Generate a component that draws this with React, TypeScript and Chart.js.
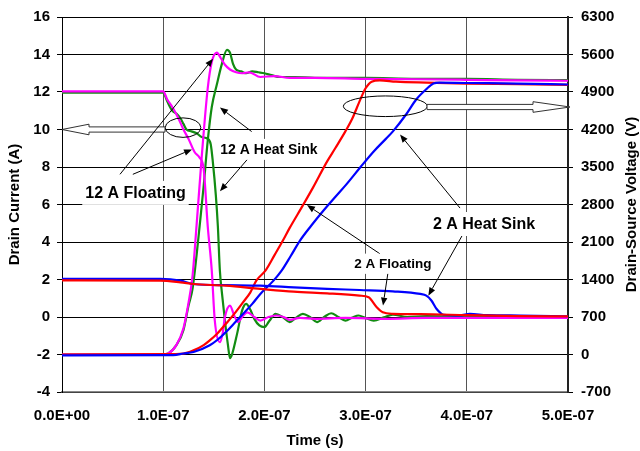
import React, { useEffect, useRef } from 'react';
import { Chart, registerables } from 'chart.js';

Chart.register(...registerables);

// ---------- axis ticks ----------
const timeTicksNs = [0, 100, 200, 300, 400, 500];
const timeTickLabels = ['0.0E+00', '1.0E-07', '2.0E-07', '3.0E-07', '4.0E-07', '5.0E-07'];

// ---------- 12 A Floating (magenta) ----------
const fl12CurT = [0, 100, 104, 109, 115, 120, 125, 131, 136, 140, 144, 148, 151, 156, 159, 161, 166, 170, 174, 178, 183, 190, 196, 204, 212, 219, 225, 235, 250, 280, 320, 360, 420, 500];
const fl12CurA = [12.03, 12.03, 11.6, 11.2, 10.6, 10.0, 9.5, 8.8, 8.5, 7.9, 4.85, 2.47, -0.2, -1.34, -0.8, 0.0, 0.61, 0.1, -0.27, 0.0, 0.25, 0.0, -0.19, 0.0, 0.08, 0.0, -0.15, -0.05, -0.1, -0.05, -0.1, -0.05, -0.05, -0.05];
const fl12VoltT = [0, 100, 105, 113, 120, 125, 129, 133, 138, 144, 148, 153, 157, 161, 166, 172, 178, 185, 196, 210, 225, 250, 300, 350, 400, 450, 500];
const fl12VoltV = [0, 0, 18, 175, 490, 963, 1470, 2415, 3675, 4970, 5460, 5635, 5530, 5408, 5320, 5268, 5250, 5268, 5180, 5198, 5163, 5163, 5145, 5138, 5128, 5117, 5110];

// ---------- 12 A Heat Sink (green) ----------
const hs12CurT = [0, 100, 104, 109, 113, 117, 120, 123, 128, 133, 138, 144, 147, 149, 152, 154, 156, 158, 161, 164, 166, 168, 173, 178, 182, 186, 190, 195, 200, 205, 211, 218, 225, 231, 238, 245, 252, 259, 266, 273, 280, 287, 293, 300, 308, 318, 327, 341, 360, 400, 450, 500];
const hs12CurA = [11.96, 11.96, 11.5, 11.0, 10.85, 10.6, 10.3, 10.0, 9.9, 9.8, 9.6, 9.5, 9.2, 8.3, 6.5, 4.85, 2.47, 1.3, -0.2, -1.5, -2.2, -2.0, -0.9, 0.35, 0.7, 0.4, -0.1, -0.45, -0.54, -0.2, 0.17, 0.0, -0.27, -0.05, 0.17, 0.0, -0.27, 0.0, 0.2, 0.0, -0.19, -0.03, 0.08, -0.05, -0.19, -0.02, 0.13, 0.0, 0.05, 0.0, 0.02, 0.0];
const hs12VoltT = [0, 100, 105, 113, 120, 125, 129, 133, 136, 140, 144, 148, 153, 158, 163, 166, 169, 172, 177, 182, 188, 194, 200, 207, 215, 230, 250, 300, 350, 400, 450, 500];
const hs12VoltV = [0, 0, 18, 175, 455, 910, 1225, 1855, 2398, 3150, 3990, 4620, 5040, 5425, 5688, 5635, 5425, 5320, 5285, 5250, 5285, 5268, 5250, 5215, 5180, 5180, 5163, 5163, 5145, 5145, 5128, 5123];

// ---------- 2 A Floating (red) ----------
const fl2CurT = [0, 97, 117, 130, 162, 196, 229, 262, 294, 303, 311, 317, 327, 354, 400, 450, 500];
const fl2CurA = [1.95, 1.94, 1.85, 1.76, 1.67, 1.5, 1.35, 1.26, 1.14, 1.05, 0.52, 0.25, 0.17, 0.15, 0.1, 0.05, 0.03];
const fl2VoltT = [0, 100, 120, 130, 140, 146, 154, 162, 170, 179, 186, 192, 201, 210, 218, 225, 238, 248, 262, 270, 280, 287, 294, 300, 306, 314, 330, 360, 400, 450, 500];
const fl2VoltV = [0, 7, 18, 77, 175, 263, 403, 574, 753, 977, 1155, 1379, 1565, 1855, 2118, 2363, 2783, 3115, 3605, 3850, 4165, 4410, 4725, 4970, 5093, 5117, 5093, 5075, 5058, 5047, 5033];

// ---------- 2 A Heat Sink (blue) ----------
const hs2CurT = [0, 97, 117, 130, 162, 196, 229, 262, 294, 327, 354, 360, 365, 370, 377, 393, 403, 420, 453, 500];
const hs2CurA = [2.03, 2.03, 1.94, 1.76, 1.7, 1.67, 1.58, 1.5, 1.44, 1.37, 1.23, 1.14, 0.88, 0.44, 0.12, 0.08, 0.17, 0.1, 0.08, 0.04];
const hs2VoltT = [0, 110, 120, 130, 146, 154, 162, 170, 179, 188, 196, 209, 217, 226, 235, 246, 258, 270, 281, 295, 308, 320, 327, 340, 350, 360, 367, 373, 400, 450, 500];
const hs2VoltV = [-15, -10, 18, 46, 172, 280, 420, 578, 760, 945, 1131, 1379, 1565, 1838, 2121, 2398, 2678, 2940, 3175, 3500, 3791, 4025, 4165, 4480, 4760, 4953, 5058, 5075, 5068, 5058, 5040];

// ---------- callouts (data coordinates: time ns, current A) ----------
const calloutLabels = [
  { text: '12 A Floating', t: 72.6, a: 6.62, size: 16 },
  { text: '12 A Heat Sink', t: 204.5, a: 8.94, size: 14 },
  { text: '2 A Floating', t: 327, a: 2.84, size: 13.5 },
  { text: '2 A Heat Sink', t: 417, a: 4.96, size: 16 },
];
const calloutArrows = [
  { from: [57.3, 7.61], to: [149.2, 13.77] },
  { from: [70.0, 7.61], to: [128.5, 8.94] },
  { from: [187.4, 9.89], to: [156.1, 11.17] },
  { from: [185.8, 8.57], to: [156.1, 6.71] },
  { from: [314.2, 3.37], to: [242.1, 5.97] },
  { from: [322.1, 2.36], to: [317.2, 0.61] },
  { from: [393.3, 5.81], to: [334.0, 9.73] },
  { from: [398.0, 4.59], to: [362.0, 1.14] },
];
const calloutEllipses = [
  { t: 119.6, a: 10.1, rt: 17.6, ra: 0.52 },
  { t: 319.5, a: 11.24, rt: 41.5, ra: 0.55 },
];
const hollowArrows = [
  { tail: 101.8, tip: 0, a: 10.0, head: 27 },
  { tail: 360.7, tip: 502, a: 11.2, head: 37 },
];

const FONT = "'Liberation Sans', Arial, Helvetica, sans-serif";
const toPts = (ts: number[], vs: number[]) => ts.map((t, i) => ({ x: t * 1e-9, y: vs[i] }));

const calloutPlugin = {
  id: 'callouts',
  afterDatasetsDraw(chart: any) {
    const { ctx } = chart;
    const xs = chart.scales.x;
    const ys = chart.scales.y;
    const px = (t: number) => xs.getPixelForValue(t * 1e-9);
    const py = (a: number) => ys.getPixelForValue(a);
    ctx.save();
    // ellipses
    ctx.strokeStyle = '#000';
    ctx.lineWidth = 1;
    for (const e of calloutEllipses) {
      const cx = px(e.t), cy = py(e.a);
      const rx = px(e.t + e.rt) - cx;
      const ry = cy - py(e.a + e.ra);
      ctx.beginPath();
      ctx.ellipse(cx, cy, rx, ry, 0, 0, Math.PI * 2);
      ctx.stroke();
    }
    // hollow block arrows
    for (const h of hollowArrows) {
      const x0 = px(h.tip), x1 = px(h.tail), y = py(h.a);
      const dir = Math.sign(x1 - x0);
      const hb = x0 + dir * h.head;
      ctx.beginPath();
      ctx.moveTo(x0, y);
      ctx.lineTo(hb, y - 5.3);
      ctx.lineTo(hb, y - 2.6);
      ctx.lineTo(x1, y - 2.6);
      ctx.lineTo(x1, y + 2.6);
      ctx.lineTo(hb, y + 2.6);
      ctx.lineTo(hb, y + 5.3);
      ctx.closePath();
      ctx.fillStyle = '#fff';
      ctx.fill();
      ctx.strokeStyle = '#333';
      ctx.lineWidth = 1;
      ctx.stroke();
    }
    // pointer arrows
    ctx.strokeStyle = '#000';
    ctx.fillStyle = '#000';
    for (const ar of calloutArrows) {
      const x0 = px(ar.from[0]), y0 = py(ar.from[1]);
      const x1 = px(ar.to[0]), y1 = py(ar.to[1]);
      const ang = Math.atan2(y1 - y0, x1 - x0);
      const hl = 8, hw = 3.2;
      const bx = x1 - hl * Math.cos(ang), by = y1 - hl * Math.sin(ang);
      ctx.beginPath();
      ctx.moveTo(x0, y0);
      ctx.lineTo(bx, by);
      ctx.lineWidth = 1;
      ctx.stroke();
      ctx.beginPath();
      ctx.moveTo(x1, y1);
      ctx.lineTo(bx + hw * Math.sin(ang), by - hw * Math.cos(ang));
      ctx.lineTo(bx - hw * Math.sin(ang), by + hw * Math.cos(ang));
      ctx.closePath();
      ctx.fill();
    }
    // text labels with white background
    ctx.textAlign = 'center';
    ctx.textBaseline = 'middle';
    for (const l of calloutLabels) {
      ctx.font = `bold ${l.size}px ${FONT}`;
      const w = ctx.measureText(l.text).width;
      const cx = px(l.t), cy = py(l.a);
      ctx.fillStyle = '#fff';
      ctx.fillRect(cx - w / 2 - 3, cy - l.size * 0.75, w + 6, l.size * 1.5);
      ctx.fillStyle = '#000';
      ctx.fillText(l.text, cx, cy + 1);
    }
    ctx.restore();
  },
  afterDraw(chart: any) {
    const { ctx } = chart;
    const ya = chart.scales.yV;
    ctx.save();
    ctx.font = `bold 15px ${FONT}`;
    ctx.fillStyle = '#000';
    ctx.textAlign = 'center';
    ctx.textBaseline = 'middle';
    ctx.translate(632, (ya.top + ya.bottom) / 2);
    ctx.rotate(-Math.PI / 2);
    ctx.fillText('Drain-Source Voltage (V)', 0, 0);
    ctx.restore();
  },
};

export default function App() {
  const ref = useRef<HTMLCanvasElement | null>(null);
  useEffect(() => {
    if (!ref.current) return;
    const lw = 2.2;
    const common = { pointRadius: 0, borderWidth: lw, cubicInterpolationMode: 'monotone' as const, fill: false };
    const chart = new Chart(ref.current, {
      type: 'line',
      data: {
        datasets: [
          { label: '2 A Floating current', data: toPts(fl2CurT, fl2CurA), borderColor: '#ff0000', yAxisID: 'y', ...common },
          { label: '2 A Heat Sink current', data: toPts(hs2CurT, hs2CurA), borderColor: '#0000ff', yAxisID: 'y', ...common },
          { label: '2 A Heat Sink voltage', data: toPts(hs2VoltT, hs2VoltV), borderColor: '#0000ff', yAxisID: 'yV', ...common },
          { label: '2 A Floating voltage', data: toPts(fl2VoltT, fl2VoltV), borderColor: '#ff0000', yAxisID: 'yV', ...common },
          { label: '12 A Floating current', data: toPts(fl12CurT, fl12CurA), borderColor: '#ff00ff', yAxisID: 'y', ...common },
          { label: '12 A Floating voltage', data: toPts(fl12VoltT, fl12VoltV), borderColor: '#ff00ff', yAxisID: 'yV', ...common },
          { label: '12 A Heat Sink current', data: toPts(hs12CurT, hs12CurA), borderColor: '#128c12', yAxisID: 'y', ...common },
          { label: '12 A Heat Sink voltage', data: toPts(hs12VoltT, hs12VoltV), borderColor: '#128c12', yAxisID: 'yV', ...common },
        ],
      },
      options: {
        animation: false,
        responsive: false,
        devicePixelRatio: 1,
        layout: { padding: { top: 15, left: 0, right: 0, bottom: 0 } },
        plugins: { legend: { display: false }, tooltip: { enabled: false } },
        scales: {
          x: {
            type: 'linear',
            position: 'bottom',
            min: 0,
            max: 5e-7,
            afterBuildTicks: (s: any) => { s.ticks = timeTicksNs.map((v) => ({ value: v * 1e-9 })); },
            afterFit: (s: any) => { s.height = 59; },
            ticks: {
              callback: (_v: any, i: number) => timeTickLabels[i],
              font: { family: FONT, size: 15, weight: 'bold' },
              color: '#000',
              padding: 15,
              maxRotation: 0,
              autoSkip: false,
            },
            grid: { color: '#555', lineWidth: 1, drawTicks: false },
            border: { color: '#888', width: 1.5 },
            title: { display: true, text: 'Time (s)', font: { family: FONT, size: 15, weight: 'bold' }, color: '#000', padding: { top: 0, bottom: 1 } },
          },
          y: {
            type: 'linear',
            position: 'left',
            min: -4,
            max: 16,
            afterFit: (s: any) => { s.width = 62; },
            ticks: { stepSize: 2, font: { family: FONT, size: 15, weight: 'bold' }, color: '#000', padding: 7 },
            grid: { color: '#000', lineWidth: 1, tickLength: 5 },
            border: { color: '#000', width: 1 },
            title: { display: true, text: 'Drain Current (A)', font: { family: FONT, size: 15, weight: 'bold' }, color: '#000', padding: { top: 6, bottom: 0 } },
          },
          yV: {
            type: 'linear',
            position: 'right',
            min: -700,
            max: 6300,
            afterFit: (s: any) => { s.width = 72; },
            ticks: { stepSize: 700, callback: (v: any) => String(v), font: { family: FONT, size: 15, weight: 'bold' }, color: '#000', padding: 8 },
            grid: { drawOnChartArea: false, color: '#000', tickLength: 5 },
            border: { color: '#222', width: 2 },
          },
        },
      },
      plugins: [calloutPlugin],
    });
    return () => chart.destroy();
  }, []);
  return (
    <div style={{ position: 'absolute', left: 0, top: 0, width: 640, height: 451, background: '#fff' }}>
      <canvas ref={ref} width={640} height={451} style={{ width: 640, height: 451, display: 'block' }} />
    </div>
  );
}
